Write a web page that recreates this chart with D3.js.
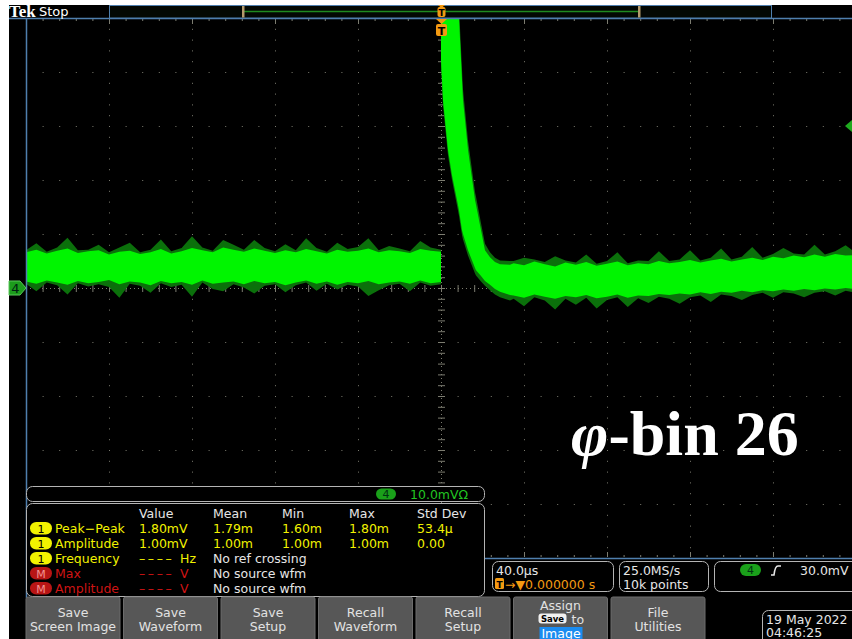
<!DOCTYPE html>
<html>
<head>
<meta charset="utf-8">
<script src="https://cdn.jsdelivr.net/npm/d3@7"></script>
<style>
html, body { margin: 0; padding: 0; background: #fff; }
svg { display: block; }
text { font-family: "DejaVu Sans", sans-serif; }
</style>
</head>
<body>
<div id="scope"></div>
<script>
var W = 852, H = 639;

// ---- waveform envelope (time in us, level in mV) ----
// pre-trigger: one value every 5 us from -200 to 0
var preHi  = [6.6,7.1,6.4,6.9,7.3,6.5,6.8,7.0,6.2,6.7,6.9,6.3,6.6,7.2,6.4,6.8,7.4,7.0,6.6,7.5,7.1,6.7,7.3,6.9,6.5,7.0,6.6,7.2,6.8,6.4,7.1,6.7,6.9,7.3,6.6,7.0,6.8,6.5,7.2,6.9,6.7];
var preLo  = [1.2,0.8,1.4,1.0,0.6,1.3,0.9,1.1,1.5,0.7,1.2,1.0,0.5,1.3,0.9,1.1,0.6,1.4,0.8,1.0,1.2,0.7,1.3,0.9,1.1,0.5,1.0,1.4,0.8,1.2,0.6,1.1,0.9,1.3,0.7,1.0,1.2,0.8,1.4,0.9,1.1];
var preHiF = [7.0,8.3,6.7,7.5,9.3,7.0,7.1,8.0,6.6,7.5,8.4,6.6,7.1,9.0,6.8,7.4,9.6,7.5,6.9,8.9,8.0,7.1,8.9,7.4,6.8,8.1,7.0,9.2,7.4,6.7,8.4,7.2,7.6,9.2,7.0,7.8,7.3,6.8,8.7,7.5,7.1];
var preLoF = [0.8,-0.6,1.0,0.5,-1.2,0.9,0.3,0.7,0.2,-1.8,0.8,0.4,-0.9,0.9,0.2,0.6,-1.6,1.0,-0.2,-0.6,0.7,0.1,-1.0,0.4,0.7,-0.8,0.5,1.0,-0.5,0.8,-0.3,0.6,0.3,-1.5,-0.4,0.5,0.8,-0.6,1.0,0.4,0.7];

// the pulse right after the trigger
var decayT   = [0,0.96,3.37,5.30,7.71,8.67,10.12,10.60,13.01,16.39,16.87,19.28,21.20,23.61,26.02,28.43,33.25];
var decayHi  = [60,60,60,60,60,50,38.5,34.8,25.6,16.3,15.4,10.7,7.0,5.7,4.8,4.4,4.3];
var decayLo  = [42.2,34.8,25.6,20.9,16.3,14.4,10.7,10.0,7.0,3.7,3.3,2.2,1.3,0.6,-0.2,-0.7,-1.3];
var decayHiF = [60,60,60,60,60,52,40.5,36.8,27.3,17.8,16.9,12.0,8.2,6.6,5.6,5.1,5.0];
var decayLoF = [41,33.8,24.6,20,15.3,13.4,9.8,9.0,6.0,2.7,2.3,1.2,0.4,-0.4,-1.2,-1.7,-2.3];

// after the pulse: one value every 5 us from 35 to 200
var postHi  = [4.6,4.2,4.9,4.4,4.0,4.7,4.3,4.8,4.1,4.5,4.9,4.2,4.6,4.4,5.0,4.6,4.8,5.2,4.7,5.1,5.4,4.9,5.3,5.6,5.2,5.8,5.5,6.0,5.7,6.2,5.8,6.3,6.0,6.1];
var postLo  = [-1.4,-1.8,-1.2,-1.6,-2.0,-1.5,-1.7,-1.3,-1.9,-1.6,-1.2,-1.8,-1.4,-1.5,-1.1,-1.3,-1.0,-1.2,-0.8,-1.1,-0.7,-0.9,-0.5,-0.8,-0.4,-0.6,-0.3,-0.5,-0.2,-0.4,-0.1,-0.3,0.0,-0.2];
var postHiF = [5.0,5.6,5.3,4.8,5.9,5.1,4.7,6.2,4.5,5.0,6.6,4.6,5.1,5.0,6.8,5.0,5.3,7.0,5.1,5.6,7.3,5.3,5.8,7.6,5.6,6.3,7.4,6.4,6.2,8.0,6.2,6.8,7.9,6.5];
var postLoF = [-2.0,-3.4,-1.7,-2.3,-4.0,-2.0,-3.1,-1.8,-3.8,-2.2,-1.7,-3.5,-1.9,-2.8,-1.6,-2.0,-2.9,-1.7,-1.4,-2.6,-1.2,-1.5,-2.2,-1.3,-0.9,-1.8,-0.8,-1.0,-1.7,-0.9,-0.6,-1.4,-0.5,-0.9];

var trigLevel = 30; // mV

// ---- readout texts ----
var measHeaders = ["Value", "Mean", "Min", "Max", "Std Dev"];
var measRows = [
  { src: "1", label: "Peak\u2212Peak", cells: ["1.80mV", "1.79m", "1.60m", "1.80m", "53.4\u00b5"] },
  { src: "1", label: "Amplitude",      cells: ["1.00mV", "1.00m", "1.00m", "1.00m", "0.00"] },
  { src: "1", label: "Frequency",      cells: ["\u2013\u2013\u2013\u2013", "No ref crossing"], unit: "Hz" },
  { src: "M", label: "Max",            cells: ["\u2013\u2013\u2013\u2013", "No source wfm"], unit: "V" },
  { src: "M", label: "Amplitude",      cells: ["\u2013\u2013\u2013\u2013", "No source wfm"], unit: "V" }
];
var buttons = [["Save", "Screen Image"], ["Save", "Waveform"], ["Save", "Setup"],
               ["Recall", "Waveform"], ["Recall", "Setup"], null, ["File", "Utilities"]];

var svg = d3.select("#scope").append("svg").attr("width", W).attr("height", H);
svg.append("rect").attr("x", 9).attr("y", 5).attr("width", W - 9).attr("height", H - 5).attr("fill", "#000");

var x = d3.scaleLinear().domain([-200, 200]).range([26, 856]);
var y = d3.scaleLinear().domain([-50, 50]).range([558, 18]);
var blue = "#4f7fae", grid = "#7c7c70";

// ---- graticule ----
var g = svg.append("g");
var majT = d3.range(-160, 201, 40), minT = d3.range(-200, 201, 8);
var majV = d3.range(-40, 41, 10), minV = d3.range(-50, 51, 2);
majT.forEach(function(t) {
  if (t === 0) return;
  g.selectAll(null).data(minV).enter().append("rect")
    .attr("x", x(t)).attr("y", function(v) { return y(v); })
    .attr("width", 1).attr("height", 1).attr("fill", grid);
});
majV.forEach(function(v) {
  if (v === 0) return;
  g.selectAll(null).data(minT).enter().append("rect")
    .attr("x", function(t) { return x(t); }).attr("y", y(v))
    .attr("width", 1).attr("height", 1).attr("fill", grid);
});
// centre cross with ticks
g.append("line").attr("x1", x(0) + 0.5).attr("x2", x(0) + 0.5).attr("y1", 18).attr("y2", 558)
  .attr("stroke", grid).attr("stroke-dasharray", "1,3");
g.append("line").attr("x1", 26).attr("x2", W).attr("y1", y(0) + 0.5).attr("y2", y(0) + 0.5)
  .attr("stroke", grid).attr("stroke-dasharray", "1,3");
g.selectAll(null).data(minV).enter().append("line")
  .attr("x1", x(0) - 3).attr("x2", x(0) + 4)
  .attr("y1", function(v) { return y(v) + 0.5; }).attr("y2", function(v) { return y(v) + 0.5; })
  .attr("stroke", grid);
g.selectAll(null).data(minT).enter().append("line")
  .attr("x1", function(t) { return x(t) + 0.5; }).attr("x2", function(t) { return x(t) + 0.5; })
  .attr("y1", y(0) - 3).attr("y2", y(0) + 4).attr("stroke", grid);
// edge ticks
g.selectAll(null).data(minT).enter().append("line")
  .attr("x1", function(t) { return x(t) + 0.5; }).attr("x2", function(t) { return x(t) + 0.5; })
  .attr("y1", 19).attr("y2", function(t) { return t % 40 === 0 ? 24 : 21; }).attr("stroke", grid);
g.selectAll(null).data(minT).enter().append("line")
  .attr("x1", function(t) { return x(t) + 0.5; }).attr("x2", function(t) { return x(t) + 0.5; })
  .attr("y1", 557).attr("y2", function(t) { return t % 40 === 0 ? 552 : 555; }).attr("stroke", grid);

// ---- waveform ----
svg.append("clipPath").attr("id", "scr").append("rect")
  .attr("x", 27).attr("y", 19).attr("width", W - 27).attr("height", 539);
var times = d3.range(-200, 1, 5).concat(decayT, d3.range(35, 201, 5));
var hiM = preHi.concat(decayHi, postHi), loM = preLo.concat(decayLo, postLo);
var hiF = preHiF.concat(decayHiF, postHiF), loF = preLoF.concat(decayLoF, postLoF);
var wave = times.map(function(t, i) { return { t: t, hi: hiM[i], lo: loM[i], hf: hiF[i], lf: loF[i] }; });

var wg = svg.append("g").attr("clip-path", "url(#scr)");
wg.append("path").datum(wave).attr("fill", "#0b700b")
  .attr("d", d3.area().x(function(d) { return x(d.t); }).y0(function(d) { return y(d.lf); }).y1(function(d) { return y(d.hf); }));
wg.append("path").datum(wave).attr("fill", "#00f500")
  .attr("d", d3.area().x(function(d) { return x(d.t); }).y0(function(d) { return y(d.lo); }).y1(function(d) { return y(d.hi); }));

// ---- borders and top bar ----
svg.append("line").attr("x1", 9).attr("x2", W).attr("y1", 18.5).attr("y2", 18.5).attr("stroke", blue).attr("stroke-width", 1.5);
svg.append("line").attr("x1", 26.5).attr("x2", 26.5).attr("y1", 18).attr("y2", 598).attr("stroke", blue).attr("stroke-width", 1.5);
svg.append("line").attr("x1", 26).attr("x2", W).attr("y1", 558.5).attr("y2", 558.5).attr("stroke", blue).attr("stroke-width", 1.5);

svg.append("rect").attr("x", 109.5).attr("y", 5.5).attr("width", 662).attr("height", 12.5)
  .attr("fill", "#030803").attr("stroke", blue);
svg.append("line").attr("x1", 243).attr("x2", 639).attr("y1", 11.5).attr("y2", 11.5).attr("stroke", "#1f8a1f").attr("stroke-width", 1.5);
[243, 639].forEach(function(px) {
  svg.append("rect").attr("x", px - 1).attr("y", 6).attr("width", 2.5).attr("height", 11.5).attr("fill", "#b49a6c");
});

svg.append("text").attr("x", 9).attr("y", 17).attr("fill", "#fff")
  .style("font-family", "Liberation Serif").style("font-weight", "bold").style("font-size", "17px").text("Tek");
svg.append("text").attr("x", 39).attr("y", 16).attr("fill", "#fff").style("font-size", "13px").text("Stop");

// trigger position markers
var orange = "#f39a12", tx = x(0);
svg.append("path").attr("d", "M" + (tx - 3) + ",5 L" + (tx + 4) + ",5 L" + (tx + 0.5) + ",8 Z").attr("fill", orange);
svg.append("rect").attr("x", tx - 3.5).attr("y", 7).attr("width", 8).attr("height", 10).attr("rx", 2).attr("fill", orange);
svg.append("text").attr("x", tx + 0.5).attr("y", 15.5).attr("text-anchor", "middle").attr("fill", "#000")
  .style("font-size", "9px").style("font-weight", "bold").text("T");
svg.append("path").attr("d", "M" + (tx - 5) + ",19 L" + (tx + 6) + ",19 L" + (tx + 0.5) + ",24 Z").attr("fill", orange);
svg.append("rect").attr("x", tx - 5).attr("y", 24).attr("width", 11).attr("height", 12).attr("rx", 2).attr("fill", orange);
svg.append("text").attr("x", tx + 0.5).attr("y", 34.5).attr("text-anchor", "middle").attr("fill", "#000")
  .style("font-size", "11px").style("font-weight", "bold").text("T");

// ground and trigger level markers
var gy = y(0);
svg.append("path").attr("d", "M9," + (gy - 7) + " L20," + (gy - 7) + " L26," + gy + " L20," + (gy + 7) + " L9," + (gy + 7) + " Z")
  .attr("fill", "#1c9c1c").attr("stroke", "#58c858");
svg.append("text").attr("x", 15.5).attr("y", gy + 5).attr("text-anchor", "middle").attr("fill", "#021").style("font-size", "13px").text("4");
var ty = y(trigLevel);
svg.append("path").attr("d", "M845," + ty + " L852," + (ty - 6) + " L852," + (ty + 6) + " Z").attr("fill", "#1faa1f");

// ---- annotation ----
var ann = svg.append("text").attr("x", 571).attr("y", 455).attr("fill", "#fff")
  .style("font-family", "Liberation Serif").style("font-weight", "bold").style("font-size", "64px");
ann.append("tspan").style("font-style", "italic").text("\u03c6");
ann.append("tspan").text("-bin 26");

// ---- channel scale bar ----
svg.append("rect").attr("x", 26.5).attr("y", 486.5).attr("width", 458).attr("height", 15).attr("rx", 6)
  .attr("fill", "#000").attr("stroke", "#b4b4b4");
svg.append("rect").attr("x", 376).attr("y", 488.5).attr("width", 20).attr("height", 11).attr("rx", 5.5).attr("fill", "#1aa01a");
svg.append("text").attr("x", 386).attr("y", 498).attr("text-anchor", "middle").attr("fill", "#031").style("font-size", "11px").text("4");
svg.append("text").attr("x", 410).attr("y", 498.5).attr("fill", "#22c422").style("font-size", "12.5px").text("10.0mV\u03a9");

// ---- measurement table ----
svg.append("rect").attr("x", 26.5).attr("y", 503.5).attr("width", 458).attr("height", 93).attr("rx", 6)
  .attr("fill", "#000").attr("stroke", "#b4b4b4");
var colX = [139, 213, 282, 349, 417];
svg.selectAll(null).data(measHeaders).enter().append("text")
  .attr("x", function(d, i) { return colX[i]; }).attr("y", 517.5)
  .attr("fill", "#e6e6e6").style("font-size", "12.5px").text(function(d) { return d; });
var rowY = d3.scaleLinear().domain([0, 1]).range([532.5, 547.5]);
measRows.forEach(function(r, i) {
  var cy = rowY(i), yellow = r.src === "1";
  var col = yellow ? "#f2f200" : "#cf1414";
  svg.append("rect").attr("x", 30).attr("y", cy - 10.5).attr("width", 22).attr("height", 12.5).attr("rx", 6.2)
    .attr("fill", yellow ? "#f2f200" : "#b81515");
  svg.append("text").attr("x", 41).attr("y", cy).attr("text-anchor", "middle")
    .attr("fill", yellow ? "#000" : "#f29090").style("font-size", "11px").text(r.src);
  svg.append("text").attr("x", 55).attr("y", cy).attr("fill", col).style("font-size", "12.5px").text(r.label);
  if (r.unit) {
    svg.append("text").attr("x", 139).attr("y", cy).attr("fill", col).style("font-size", "12.5px")
      .style("letter-spacing", "2.6px").text(r.cells[0]);
    svg.append("text").attr("x", 180).attr("y", cy).attr("fill", col).style("font-size", "12.5px").text(r.unit);
    svg.append("text").attr("x", 213).attr("y", cy).attr("fill", "#e6e6e6").style("font-size", "12.5px").text(r.cells[1]);
  } else {
    r.cells.forEach(function(c, j) {
      svg.append("text").attr("x", colX[j]).attr("y", cy).attr("fill", col).style("font-size", "12.5px").text(c);
    });
  }
});

// ---- horizontal / acquisition / trigger readouts ----
function box(x0, y0, w, h) {
  svg.append("rect").attr("x", x0 + 0.5).attr("y", y0 + 0.5).attr("width", w).attr("height", h).attr("rx", 6)
    .attr("fill", "#000").attr("stroke", "#b4b4b4");
}
box(492, 561, 121, 30);
svg.append("text").attr("x", 496).attr("y", 575).attr("fill", "#e6e6e6").style("font-size", "12.5px").text("40.0\u00b5s");
svg.append("rect").attr("x", 495).attr("y", 578).attr("width", 9).attr("height", 11).attr("rx", 1.5).attr("fill", orange);
svg.append("text").attr("x", 499.5).attr("y", 587.5).attr("text-anchor", "middle").attr("fill", "#000").style("font-size", "9px").style("font-weight", "bold").text("T");
svg.append("text").attr("x", 505).attr("y", 588.5).attr("fill", orange).style("font-size", "12.5px").text("\u2192\u25bc0.000000 s");
box(619, 561, 89, 30);
svg.append("text").attr("x", 623).attr("y", 575).attr("fill", "#e6e6e6").style("font-size", "12.5px").text("25.0MS/s");
svg.append("text").attr("x", 623).attr("y", 588.5).attr("fill", "#e6e6e6").style("font-size", "12.5px").text("10k points");
box(714, 561, 150, 30);
svg.append("rect").attr("x", 740).attr("y", 564).attr("width", 21).attr("height", 12).attr("rx", 6).attr("fill", "#1aa01a");
svg.append("text").attr("x", 750.5).attr("y", 574).attr("text-anchor", "middle").attr("fill", "#031").style("font-size", "11px").text("4");
svg.append("path").attr("d", "M771,575 L774,575 Q775,566 778,566 L781,566").attr("fill", "none").attr("stroke", "#e6e6e6").attr("stroke-width", 1.6);
svg.append("text").attr("x", 800).attr("y", 575).attr("fill", "#e6e6e6").style("font-size", "12.5px").text("30.0mV");

// ---- soft keys ----
var btnX = d3.scaleLinear().domain([0, 1]).range([26, 123.5]);
buttons.forEach(function(b, i) {
  var bx = btnX(i);
  svg.append("rect").attr("x", bx).attr("y", 597).attr("width", 94).attr("height", 45).attr("rx", 2)
    .attr("fill", "#575757").attr("stroke", "#6c6c6c");
  var cx = bx + 47;
  if (b) {
    b.forEach(function(s, k) {
      svg.append("text").attr("x", cx).attr("y", 617 + k * 14).attr("text-anchor", "middle")
        .attr("fill", "#e2e2e2").style("font-size", "12.5px").text(s);
    });
  } else {
    svg.append("text").attr("x", cx).attr("y", 610).attr("text-anchor", "middle").attr("fill", "#e2e2e2").style("font-size", "12.5px").text("Assign");
    svg.append("rect").attr("x", bx + 25).attr("y", 613.5).attr("width", 28).attr("height", 10).attr("rx", 3).attr("fill", "#f0f0f0");
    svg.append("text").attr("x", bx + 39).attr("y", 621.5).attr("text-anchor", "middle").attr("fill", "#000")
      .style("font-size", "8.5px").style("font-weight", "bold").text("Save");
    svg.append("text").attr("x", bx + 58).attr("y", 623.5).attr("fill", "#e2e2e2").style("font-size", "12.5px").text("to");
    svg.append("rect").attr("x", bx + 26).attr("y", 627).attr("width", 43).attr("height", 13).attr("fill", "#1a8cf0");
    svg.append("text").attr("x", bx + 47.5).attr("y", 637.5).attr("text-anchor", "middle").attr("fill", "#fff").style("font-size", "12.5px").text("Image");
  }
});

// ---- date ----
svg.append("rect").attr("x", 762.5).attr("y", 610.5).attr("width", 100).attr("height", 40).attr("rx", 6)
  .attr("fill", "#000").attr("stroke", "#b4b4b4");
svg.append("text").attr("x", 766).attr("y", 623.5).attr("fill", "#e6e6e6").style("font-size", "12.5px").text("19 May 2022");
svg.append("text").attr("x", 766).attr("y", 637).attr("fill", "#e6e6e6").style("font-size", "12.5px").text("04:46:25");
</script>
</body>
</html>
